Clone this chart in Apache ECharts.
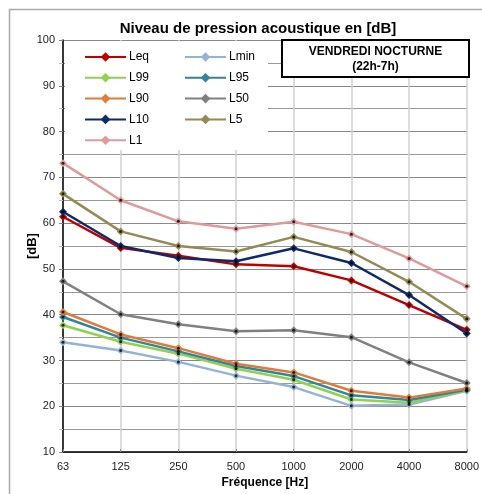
<!DOCTYPE html>
<html>
<head>
<meta charset="utf-8">
<script src="https://cdn.jsdelivr.net/npm/echarts@6/dist/echarts.min.js"></script>
<style>
html,body{margin:0;padding:0;background:#fff;}
#chart{width:482px;height:494px;}
</style>
</head>
<body>
<div id="chart"></div>
<script>
var categories = ['63', '125', '250', '500', '1000', '2000', '4000', '8000'];
var Leq  = [61.4, 54.6, 52.9, 51.0, 50.6, 47.5, 42.1, 36.7];
var Lmin = [34.0, 32.2, 29.7, 26.7, 24.2, 20.1, 20.4, 23.4];
var L99  = [37.7, 34.1, 31.5, 28.2, 25.8, 21.5, 20.8, 23.5];
var L95  = [39.5, 35.0, 32.0, 28.8, 26.6, 22.4, 21.4, 23.6];
var L90  = [40.6, 35.7, 32.7, 29.3, 27.4, 23.4, 21.9, 23.9];
var L50  = [47.3, 40.1, 37.9, 36.4, 36.6, 35.1, 29.6, 25.1];
var L10  = [62.5, 55.0, 52.4, 51.7, 54.5, 51.3, 44.3, 35.9];
var L5   = [66.4, 58.2, 55.0, 53.8, 57.0, 53.7, 47.2, 39.1];
var L1   = [73.1, 65.0, 60.4, 58.8, 60.3, 57.6, 52.3, 46.2];

var seriesDefs = [
  {name: 'Leq',  data: Leq,  color: '#C00000'},
  {name: 'Lmin', data: Lmin, color: '#95B3D7'},
  {name: 'L99',  data: L99,  color: '#92D050'},
  {name: 'L95',  data: L95,  color: '#31859C'},
  {name: 'L90',  data: L90,  color: '#E07B39'},
  {name: 'L50',  data: L50,  color: '#808080'},
  {name: 'L10',  data: L10,  color: '#0F2A6B'},
  {name: 'L5',   data: L5,   color: '#948A54'},
  {name: 'L1',   data: L1,   color: '#E19A9A'}
];

var series = [];
seriesDefs.forEach(function (s) {
  series.push({
    name: s.name, type: 'line', data: s.data,
    symbol: 'diamond', symbolSize: 8, showSymbol: true,
    lineStyle: {color: s.color, width: 2.5},
    itemStyle: {color: s.color, borderColor: s.color, borderWidth: 0},
    emphasis: {disabled: true},
    animation: false, z: 3
  });
});
seriesDefs.forEach(function (s) {
  series.push({
    name: s.name + '_dot', type: 'scatter', data: s.data,
    symbol: 'circle', symbolSize: 3,
    itemStyle: {color: '#000'}, silent: true, animation: false, z: 4
  });
});

var chart = echarts.init(document.getElementById('chart'));
var font = 'Liberation Sans, Arial, sans-serif';
var legendCommon = {
  orient: 'vertical', top: 51, itemWidth: 41, itemHeight: 12, itemGap: 8.8,
  textStyle: {fontSize: 12, color: '#000', fontFamily: font, padding: [0, 0, 0, -2]},
  padding: 0, z: 12
};
chart.setOption({
  backgroundColor: '#fff',
  animation: false,
  textStyle: {fontFamily: font},
  title: {
    text: 'Niveau de pression acoustique en [dB]',
    left: 253, textAlign: 'center', top: 16,
    textStyle: {fontSize: 15, fontWeight: 'bold', color: '#000', fontFamily: font}
  },
  legend: [
    Object.assign({data: ['Leq', 'L99', 'L90', 'L10', 'L1'], left: 84}, legendCommon),
    Object.assign({data: ['Lmin', 'L95', 'L50', 'L5'], left: 184}, legendCommon)
  ],
  grid: {left: 63, right: 14, top: 40, bottom: 31.5, containLabel: false},
  xAxis: {
    type: 'category', data: categories, boundaryGap: false,
    name: 'Fréquence [Hz]', nameLocation: 'middle', nameGap: 23,
    nameTextStyle: {fontSize: 12, fontWeight: 'bold', color: '#000', fontFamily: font},
    axisLine: {lineStyle: {color: '#000', width: 1.5}},
    axisTick: {show: true, inside: true, length: 3, lineStyle: {color: '#888'}},
    axisLabel: {fontSize: 11, color: '#222', margin: 9, fontFamily: font},
    splitLine: {show: true, lineStyle: {color: '#d0d0d0', width: 1.5}}
  },
  yAxis: {
    type: 'value', min: 10, max: 100, interval: 10,
    name: '[dB]', nameLocation: 'middle', nameGap: 24, nameRotate: 90, nameMoveOverlap: false,
    nameTextStyle: {fontSize: 13, fontWeight: 'bold', color: '#000', fontFamily: font},
    axisLine: {show: true, lineStyle: {color: '#000', width: 1.5}},
    axisTick: {show: true, length: 4, lineStyle: {color: '#888'}},
    minorTick: {show: true, splitNumber: 2, length: 4, lineStyle: {color: '#bbb'}},
    axisLabel: {fontSize: 11, color: '#222', margin: 8, fontFamily: font},
    splitLine: {show: true, lineStyle: {color: '#888', width: 1}},
    minorSplitLine: {show: true, lineStyle: {color: '#999', width: 1}}
  },
  graphic: [
    {
      type: 'rect', left: 7, top: 7, z: -1, silent: true,
      shape: {width: 490, height: 500},
      style: {fill: 'none', stroke: '#aaa', lineWidth: 1.5}
    },
    {
      type: 'rect', x: 65, y: 41, z: 1, silent: true,
      shape: {width: 203, height: 109},
      style: {fill: '#fff', stroke: 'none'}
    },
    {
      type: 'rect', x: 282, y: 40, z: 10, silent: true,
      shape: {width: 187, height: 37},
      style: {fill: '#fff', stroke: '#000', lineWidth: 2}
    },
    {
      type: 'text', x: 375.5, y: 44, z: 11, silent: true,
      style: {
        text: 'VENDREDI NOCTURNE\n(22h-7h)', align: 'center', textAlign: 'center',
        fill: '#000', font: 'bold 12px Liberation Sans, Arial, sans-serif', lineHeight: 15
      }
    }
  ],
  series: series
});
</script>
</body>
</html>
